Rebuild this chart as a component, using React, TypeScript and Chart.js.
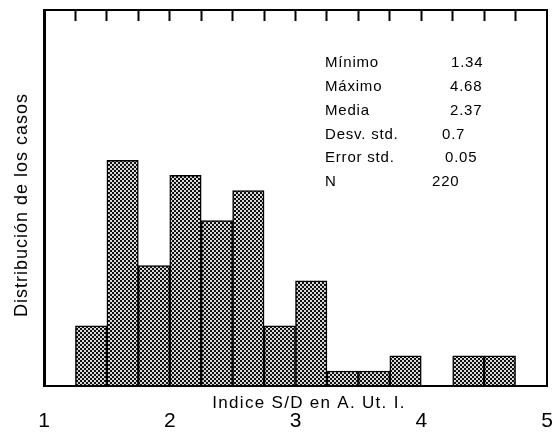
import { useEffect, useRef } from 'react';
import { Chart, registerables } from 'chart.js';

Chart.register(...registerables);

// ---- data ----
const binStarts = [1.25, 1.5, 1.75, 2.0, 2.25, 2.5, 2.75, 3.0, 3.25, 3.5, 3.75, 4.0, 4.25, 4.5];
const binWidth = 0.25;
const caseCounts = [8, 30, 16, 28, 22, 26, 8, 14, 2, 2, 4, 0, 4, 4];
const xTickValues = [1, 2, 3, 4, 5];
const statLabels = ['Mínimo', 'Máximo', 'Media', 'Desv. std.', 'Error std.', 'N'];
const statValues = ['1.34', '4.68', '2.37', '0.7', '0.05', '220'];
const xTitle = 'Indice S/D en A. Ut. I.';
const yTitle = 'Distribución de los casos';

const FONT = '"Liberation Sans", Arial, Helvetica, sans-serif';

function makePattern(): CanvasPattern | string {
  const c = document.createElement('canvas');
  c.width = 4;
  c.height = 4;
  const g = c.getContext('2d');
  if (!g) return '#777';
  g.fillStyle = '#d8d8d8';
  g.fillRect(0, 0, 4, 4);
  g.fillStyle = '#111';
  g.fillRect(0, 0, 2, 2);
  g.fillRect(2, 2, 2, 2);
  const p = g.createPattern(c, 'repeat');
  return p || '#777';
}

const textPlugin = {
  id: 'annotText',
  afterDraw(chart: any) {
    const ctx: any = chart.ctx;
    ctx.save();
    ctx.fillStyle = '#000';
    // x title (between axis and tick labels)
    ctx.font = `17px ${FONT}`;
    ctx.letterSpacing = '1.3px';
    ctx.textAlign = 'center';
    ctx.textBaseline = 'middle';
    ctx.fillText(xTitle, 309, 403);

    // stats block
    ctx.font = `15px ${FONT}`;
    ctx.letterSpacing = '0.8px';
    ctx.textAlign = 'left';
    const valueX = [451, 450, 450, 442, 445, 432];
    statLabels.forEach((lab, i) => {
      const y = 63 + i * 23.8;
      ctx.fillText(lab, 325, y);
      ctx.fillText(statValues[i], valueX[i], y);
    });

    // y title
    ctx.translate(22, 205);
    ctx.rotate(-Math.PI / 2);
    ctx.font = `18px ${FONT}`;
    ctx.letterSpacing = '1px';
    ctx.textAlign = 'center';
    ctx.fillText(yTitle, 0, 0);
    ctx.restore();
  },
};

export default function App() {
  const ref = useRef<HTMLCanvasElement | null>(null);

  useEffect(() => {
    if (!ref.current) return;
    const pattern = makePattern();
    const chart = new Chart(ref.current, {
      type: 'bar',
      data: {
        datasets: [
          {
            data: binStarts.map((s, i) => ({ x: s + binWidth / 2, y: caseCounts[i] })),
            backgroundColor: pattern as any,
            borderColor: '#000',
            borderWidth: 1.5,
            barPercentage: 1,
            categoryPercentage: 1,
            xAxisID: 'x',
            yAxisID: 'y',
          },
        ],
      },
      options: {
        responsive: false,
        animation: false,
        devicePixelRatio: 1,
        layout: { padding: { top: 10, left: 0, right: 0, bottom: 0 } },
        plugins: { legend: { display: false }, tooltip: { enabled: false } },
        scales: {
          x: {
            type: 'linear',
            position: 'bottom',
            min: 1,
            max: 5,
            offset: false,
            grid: { display: false, drawTicks: true, tickLength: 23, offset: false },
            border: { display: true, color: '#000', width: 2, z: 1 },
            ticks: {
              color: '#000',
              font: { family: FONT, size: 21 },
              padding: 0,
              autoSkip: false,
              maxRotation: 0,
            },
            afterBuildTicks: (scale: any) => {
              scale.ticks = xTickValues.map((v) => ({ value: v }));
            },
            afterFit: (scale: any) => {
              scale.height = 54;
            },
          },
          x2: {
            type: 'linear',
            axis: 'x',
            position: 'top',
            min: 1,
            max: 5,
            offset: false,
            ticks: { display: false, stepSize: 0.25, autoSkip: false, maxTicksLimit: 100, padding: 0 },
            grid: {
              display: true,
              drawOnChartArea: false,
              drawTicks: true,
              tickLength: -11,
              offset: false,
              tickWidth: 2,
              tickColor: (c: any) =>
                c.tick && (Math.abs(c.tick.value - 1) < 1e-6 || Math.abs(c.tick.value - 5) < 1e-6)
                  ? 'rgba(0,0,0,0)'
                  : '#000',
            },
            border: { display: true, color: '#000', width: 2 },
            afterFit: (scale: any) => {
              scale.height = 0;
            },
          },
          y: {
            type: 'linear',
            position: 'left',
            min: 0,
            max: 50,
            ticks: { display: false },
            grid: { display: false, drawTicks: false },
            border: { display: true, color: '#000', width: 3, z: 1 },
            afterFit: (scale: any) => {
              scale.width = 44;
            },
          },
          y2: {
            type: 'linear',
            axis: 'y',
            position: 'right',
            min: 0,
            max: 50,
            ticks: { display: false },
            grid: { display: false, drawTicks: false },
            border: { display: true, color: '#000', width: 2 },
            afterFit: (scale: any) => {
              scale.width = 8;
            },
          },
        },
      } as any,
      plugins: [textPlugin as any],
    });
    return () => chart.destroy();
  }, []);

  return (
    <div style={{ position: 'fixed', left: 0, top: 0, width: 555, height: 440, background: '#fff' }}>
      <canvas ref={ref} width={555} height={440} style={{ display: 'block' }} />
    </div>
  );
}
